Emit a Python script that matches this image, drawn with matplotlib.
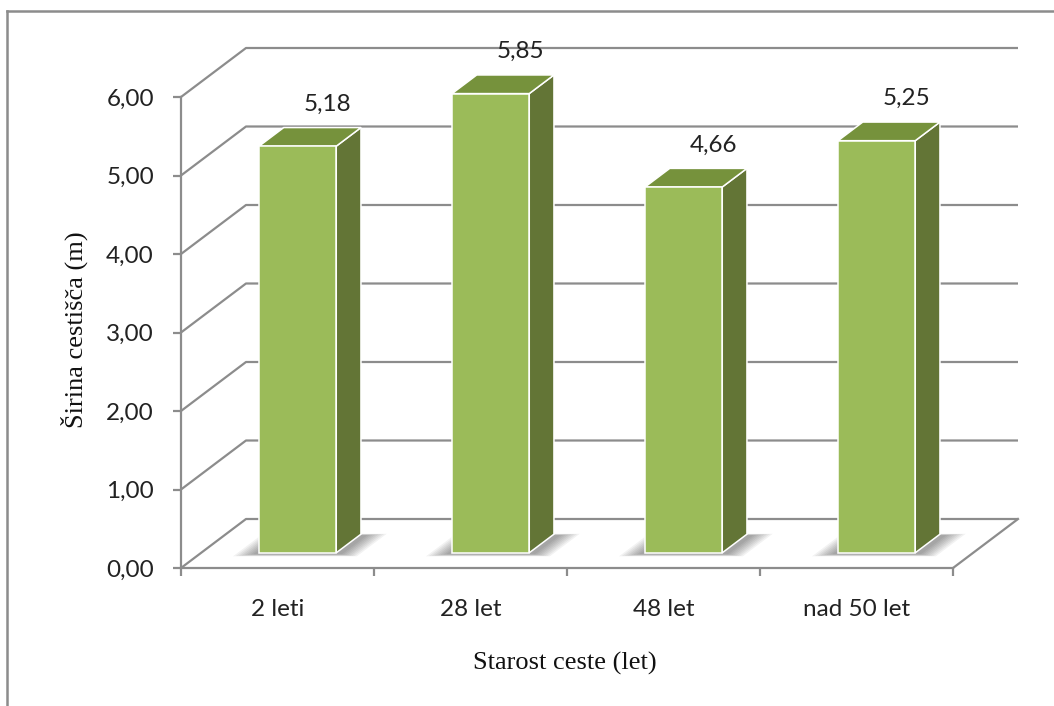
import numpy as np
import matplotlib
matplotlib.use('Agg')
import matplotlib.pyplot as plt
from matplotlib.patches import Polygon
from matplotlib.lines import Line2D

categories = ['2 leti', '28 let', '48 let', 'nad 50 let']
widths = [5.18, 5.85, 4.66, 5.25]
value_labels = ['5,18', '5,85', '4,66', '5,25']
yticks = [0, 1, 2, 3, 4, 5, 6]

GRID = '#8c8c8c'
FRONT = '#9bbb59'
TOP = '#76923c'
SIDE = '#637536'

# oblique depth offset of the 3d box (data units per full depth)
DX = 65 / 193.0
DY = 49 / 78.5


def proj(x, v, d):
    return (x + d * DX, v + d * DY)


fig = plt.figure(figsize=(10.54, 7.06), dpi=100)
ax = fig.add_axes([181 / 1054, (706 - 568) / 706, 772 / 1054, 471 / 706])
ax.set_xlim(0, len(categories))
ax.set_ylim(0, 6)

# walls: left diagonals and back gridlines
for v in yticks:
    p0 = proj(0, v, 0)
    p1 = proj(0, v, 1)
    p2 = proj(len(categories), v, 1)
    ax.plot([p0[0], p1[0], p2[0]], [p0[1], p1[1], p2[1]], color=GRID,
            lw=1.6, clip_on=False, zorder=1, solid_capstyle='butt')
# floor right edge
p0 = proj(len(categories), 0, 0)
p1 = proj(len(categories), 0, 1)
ax.plot([p0[0], p1[0]], [p0[1], p1[1]], color=GRID, lw=1.6, clip_on=False, zorder=1)

d0, d1 = 0.31, 0.69
for i, h in enumerate(widths):
    x0, x1 = i + 0.3, i + 0.7
    # soft floor shadow
    for k in range(8):
        e = 0.01 * k
        pts = [proj(x0 - 0.02 - e * 1.3, 0, d0 - 0.03 - e * 0.6),
               proj(x1 + 0.04 + e * 1.3, 0, d0 - 0.03 - e * 0.6),
               proj(x1 + 0.04 + e * 1.3, 0, d1 - 0.02 + e * 0.4),
               proj(x0 - 0.02 - e * 1.3, 0, d1 - 0.02 + e * 0.4)]
        ax.add_patch(Polygon(pts, closed=True, facecolor='#000000', alpha=0.05,
                             edgecolor='none', zorder=2, clip_on=False))
    side = [proj(x1, 0, d0), proj(x1, 0, d1), proj(x1, h, d1), proj(x1, h, d0)]
    top = [proj(x0, h, d0), proj(x1, h, d0), proj(x1, h, d1), proj(x0, h, d1)]
    front = [proj(x0, 0, d0), proj(x1, 0, d0), proj(x1, h, d0), proj(x0, h, d0)]
    for poly, col in ((side, SIDE), (top, TOP), (front, FRONT)):
        ax.add_patch(Polygon(poly, closed=True, facecolor=col, edgecolor='white',
                             lw=1.1, zorder=3, clip_on=False, joinstyle='miter'))
    ax.text(i + 0.5 + 0.26, h + 0.73, value_labels[i], ha='center', va='center',
            fontsize=17.5, family='Lato', color='#222222', zorder=4, clip_on=False)

for s in ['top', 'right']:
    ax.spines[s].set_visible(False)
for s in ['left', 'bottom']:
    ax.spines[s].set_color(GRID)
    ax.spines[s].set_linewidth(1.6)
    ax.spines[s].set_zorder(1)
ax.patch.set_visible(False)

ax.set_yticks(yticks)
ax.set_yticklabels(['%d,00' % t for t in yticks])
ax.set_xticks(range(len(categories) + 1))
ax.set_xticklabels([])
ax.set_xticks(np.arange(len(categories)) + 0.5, minor=True)
ax.set_xticklabels(categories, minor=True)
ax.tick_params(axis='both', which='major', direction='out', length=6, width=1.6,
               color=GRID, labelsize=17.5, labelcolor='#222222')
ax.tick_params(axis='y', pad=13.5)
ax.tick_params(axis='x', which='minor', length=0, pad=22, labelsize=17.5,
               labelcolor='#222222')
for lbl in ax.get_yticklabels() + ax.get_xticklabels(minor=True):
    lbl.set_family('Lato')

ax.set_ylabel('Širina cestišča (m)', fontsize=19, family='Liberation Serif', color='#111111')
ax.yaxis.set_label_coords((74 - 181) / 772, (568 - 330) / 471)
ax.yaxis.label.set_va('center')
ax.set_xlabel('Starost ceste (let)', fontsize=19, family='Liberation Serif', color='#111111')
ax.xaxis.set_label_coords((565 - 181) / 772, (568 - 663) / 471)
ax.xaxis.label.set_va('center')

# outer chart frame
fig.add_artist(Line2D([7 / 1054, 7 / 1054], [0, 1 - 11 / 706], color=GRID, lw=1.8,
                      transform=fig.transFigure))
fig.add_artist(Line2D([7 / 1054, 1], [1 - 11 / 706, 1 - 11 / 706], color=GRID, lw=1.8,
                      transform=fig.transFigure))

fig.savefig('out.png', dpi=100)
